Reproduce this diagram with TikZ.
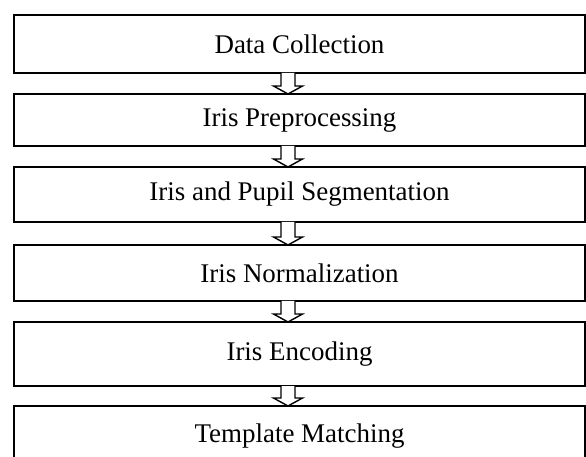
\documentclass[tikz,border=0pt]{standalone}
\usepackage{fontspec}
\setmainfont{Liberation Serif}
\usetikzlibrary{calc}

\tikzset{
stage/.style={draw,line width=1.5pt,rectangle,outer sep=0pt,
  minimum width=571*0.03cm,inner sep=0pt,font=\fontsize{23}{26}\selectfont},
bold stage/.style={stage,line width=2.3pt},
flowarrow/.style={draw,line width=1.2pt,fill=white,line join=miter}
}

\begin{document}
\begin{tikzpicture}[x=0.03cm,y=-0.03cm]

% Page
\useasboundingbox (0,0) rectangle (586,457);

% Stages
\node[bold stage,minimum height=58*0.03cm] (collect) at (299.5,44) {Data Collection};
\node[stage,minimum height=52*0.03cm] (prep) at (299.5,120) {Iris Preprocessing};
\node[stage,minimum height=55*0.03cm] (segment) at (299.5,194.5) {Iris and Pupil Segmentation};
\node[stage,minimum height=56*0.03cm] (norm) at (299.5,273) {Iris Normalization};
\node[bold stage,minimum height=64*0.03cm] (encode) at (299.5,354) {Iris Encoding};
\node[bold stage,minimum height=60*0.03cm] (match) at (299.5,436) {Template Matching};

% Hollow arrows between stages
\foreach \a/\b in {collect/prep,prep/segment,segment/norm,norm/encode,encode/match}
{
\draw[flowarrow]
($(\a.south)+(-18.5,0)$) --
($(\b.north)+(-18.5,-8)$) --
($(\b.north)+(-26,-8)$) --
($(\b.north)+(-11.5,0)$) --
($(\b.north)+(3,-8)$) --
($(\b.north)+(-4.5,-8)$) --
($(\a.south)+(-4.5,0)$);
}

\end{tikzpicture}
\end{document}
